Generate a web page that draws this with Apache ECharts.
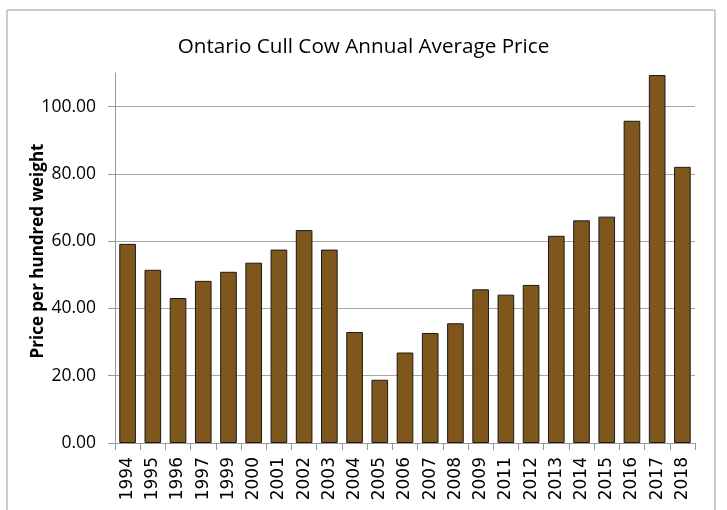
<!DOCTYPE html>
<html><head><meta charset="utf-8">
<script src="https://cdn.jsdelivr.net/npm/echarts@6/dist/echarts.min.js"></script>
<style>html,body{margin:0;padding:0;background:#fff}#c{width:727px;height:510px}</style>
</head><body><div id="c"></div>
<script>
const years = ['1994','1995','1996','1997','1999','2000','2001','2002','2003','2004','2005','2006','2007','2008','2009','2011','2012','2013','2014','2015','2016','2017','2018'];
const prices = [59.2,51.5,43.1,48.2,50.9,53.6,57.5,63.3,57.5,33.0,18.8,26.9,32.7,35.6,45.7,44.1,47.0,61.6,66.2,67.3,95.8,109.4,82.1];
const titleText = 'Ontario Cull Cow Annual Average Price';
const yName = 'Price per hundred weight';

const chart = echarts.init(document.getElementById('c'), null, {renderer:'canvas'});
const font = 'Open Sans, Noto Sans, sans-serif';
chart.setOption({
  animation:false,
  graphic:[{type:'rect',shape:{x:7,y:10,width:708,height:520},style:{fill:'none',stroke:'#9a9a9a',lineWidth:1}}],
  title:{text:titleText,left:'center',top:32,textStyle:{fontFamily:font,fontWeight:'normal',fontSize:20.7,color:'#000'}},
  grid:{left:115,right:32,top:73,bottom:67},
  xAxis:{type:'category',data:years,
    axisLine:{lineStyle:{color:'#999'}},
    axisTick:{show:true,length:7,lineStyle:{color:'#999'}},
    axisLabel:{rotate:90,fontFamily:'DejaVu Sans, sans-serif',fontSize:17,color:'#000',margin:14}},
  yAxis:{type:'value',min:0,max:110,interval:20,
    name:yName,nameLocation:'middle',nameGap:68,nameRotate:90,nameMoveOverlap:false,
    nameTextStyle:{fontFamily:font,fontSize:17,fontWeight:'bold',color:'#000',padding:[0,0,0,14]},
    axisLine:{show:true,lineStyle:{color:'#999'}},
    axisTick:{show:true,length:7,lineStyle:{color:'#999'}},
    axisLabel:{fontFamily:font,fontSize:17.5,color:'#000',margin:19,showMaxLabel:false,formatter:v=>v.toFixed(2)},
    splitLine:{show:true,showMaxLine:false,lineStyle:{color:'#a6a6a6',width:1}}},
  series:[{type:'bar',data:prices,barCategoryGap:'34%',
    itemStyle:{color:'#7f561c',borderColor:'#1a1a1a',borderWidth:1}}]
});
</script></body></html>
